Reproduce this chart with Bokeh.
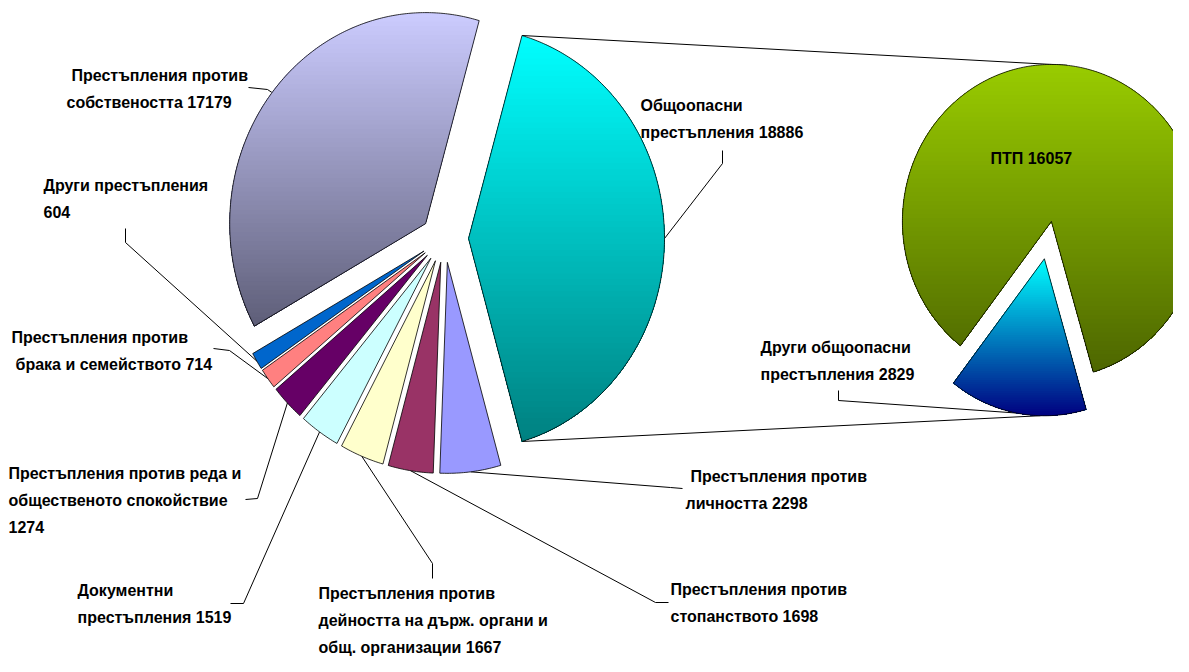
import numpy as np
from bokeh.plotting import figure
from bokeh.models import Range1d
from bokeh.core.properties import value
from bokeh.embed import file_html
from bokeh.resources import INLINE

# ---------------- data ----------------
# main pie, clockwise, starting with the slice that is split into the second pie
main_categories = [
    "Общоопасни престъпления",
    "Престъпления против личността",
    "Престъпления против стопанството",
    "Престъпления против дейността на държ. органи и общ. организации",
    "Документни престъпления",
    "Престъпления против реда и общественото спокойствие",
    "Престъпления против брака и семейството",
    "Други престъпления",
    "Престъпления против собствеността",
]
main_values = [18886, 2298, 1698, 1667, 1519, 1274, 714, 604, 17179]
main_label_lines = [
    ["Общоопасни", "престъпления {v}"],
    ["Престъпления против", "личността {v}"],
    ["Престъпления против", "стопанството {v}"],
    ["Престъпления против", "дейността на държ. органи и", "общ. организации {v}"],
    ["Документни", "престъпления {v}"],
    ["Престъпления против реда и", "общественото спокойствие", "{v}"],
    ["Престъпления против", "брака и семейството {v}"],
    ["Други престъпления", "{v}"],
    ["Престъпления против", "собствеността {v}"],
]

# second pie (breakdown of "Общоопасни престъпления"), clockwise
sub_categories = ["Други общоопасни престъпления", "ПТП"]
sub_values = [2829, 16057]
sub_label_lines = [["Други общоопасни", "престъпления  {v}"], ["ПТП {v}"]]

# ---------------- style / layout ----------------
main_fill_top = ["#00FFFF", "#9999FF", "#993366", "#FFFFCC", "#CCFFFF",
                 "#660066", "#FF8080", "#0066CC", "#CCCCFF"]
main_fill_bottom = ["#008080", "#9999FF", "#993366", "#FFFFCC", "#CCFFFF",
                    "#660066", "#FF8080", "#0066CC", "#5E5E78"]
sub_fill_top = ["#00FFFF", "#99CC00"]
sub_fill_bottom = ["#000080", "#4D6600"]

C1, R1, EXPL1 = (444.0, 238.0), (196.0, 211.0), 24.0
C2, R2, EXPL2 = (1047.4, 239.6), (149.0, 157.0), 19.0
SUB_START = 163.7          # clockwise from 12 o'clock
SUB_TOP_ANGLE, SUB_BOTTOM_ANGLE = 6.0, 181.5

LINE_STEP = 26.8
main_label_pos = [(640, 105), (690, 476), (670, 589), (318, 593), (77, 590),
                  (8, 473), (11, 337), (43, 185), (71, 75)]
main_label_dx = [[0, 0], [0, -5], [0, 0], [0, 0, 0], [0, 0],
                 [0, 0, 0], [0, 4], [0, 0], [0, -5]]
main_leader_elbows = [[(722, 150), (722, 163)], [(682, 488), (670, 487)],
                      [(668, 602), (655, 602)], [(432, 578), (432, 563)],
                      [(230, 603), (243, 603)], [(245, 499), (257, 498)],
                      [(213, 348), (229, 350)], [(125, 228), (125, 242)],
                      [(248, 87), (267, 89)]]
sub_label_pos = [(760, 347), (990, 158)]
sub_label_dx = [[0, 0], [0]]
sub_leader_elbows = [[(838, 390), (838, 400)], None]

FONT = value("Liberation Sans")


def hex2rgb(h):
    h = h.lstrip("#")
    return tuple(int(h[i:i + 2], 16) for i in (0, 2, 4))


def mix(a, b, t):
    ra, rb = hex2rgb(a), hex2rgb(b)
    return "#%02x%02x%02x" % tuple(int(round(ra[i] + (rb[i] - ra[i]) * t)) for i in range(3))


def slices(values, start):
    tot = float(sum(values))
    out, a = [], start
    for v in values:
        span = 360.0 * v / tot
        out.append((a, a + span))
        a += span
    return out


def apex(c, expl, a0, a1):
    m = np.radians((a0 + a1) / 2)
    return c[0] + expl * np.sin(m), c[1] - expl * np.cos(m)


def arc_point(ap, r, ang):
    t = np.radians(ang)
    return ap[0] + r[0] * np.sin(t), ap[1] - r[1] * np.cos(t)


def slice_poly(ap, r, a0, a1):
    n = max(8, int(abs(a1 - a0) * 1.5))
    t = np.radians(np.linspace(a0, a1, n))
    xs = [ap[0]] + list(ap[0] + r[0] * np.sin(t))
    ys = [ap[1]] + list(ap[1] - r[1] * np.cos(t))
    return xs, ys


def clip_below(xs, ys, t):
    ox, oy = [], []
    n = len(xs)
    for i in range(n):
        x1, y1 = xs[i - 1], ys[i - 1]
        x2, y2 = xs[i], ys[i]
        in1, in2 = y1 >= t, y2 >= t
        if in2:
            if not in1:
                f = (t - y1) / (y2 - y1)
                ox.append(x1 + f * (x2 - x1)); oy.append(t)
            ox.append(x2); oy.append(y2)
        elif in1:
            f = (t - y1) / (y2 - y1)
            ox.append(x1 + f * (x2 - x1)); oy.append(t)
    return ox, oy


p = figure(width=1173, height=656, x_range=Range1d(0, 1173), y_range=Range1d(656, 0),
           output_backend="svg", toolbar_location=None, min_border=0)
p.xaxis.visible = False
p.yaxis.visible = False
p.grid.visible = False
p.outline_line_color = None
p.background_fill_color = "white"
p.border_fill_color = "white"

fill_xs, fill_ys, fill_cols = [], [], []
out_xs, out_ys = [], []
text_x, text_y, text_s = [], [], []
lead_xs, lead_ys = [], []


def add_pie(values, start, c, r, expl, tops, bottoms, label_lines, label_pos, label_dx, elbows):
    geo = []
    for i, (a0, a1) in enumerate(slices(values, start)):
        ap = apex(c, expl, a0, a1)
        xs, ys = slice_poly(ap, r, a0, a1)
        geo.append((ap, a0, a1))
        if tops[i] == bottoms[i]:
            fill_xs.append(xs); fill_ys.append(ys); fill_cols.append(tops[i])
        else:
            y0, y1 = min(ys), max(ys)
            nb = 70
            for k in range(nb):
                t = y0 + (y1 - y0) * k / nb
                bx, by = clip_below(xs, ys, t)
                if len(bx) >= 3:
                    fill_xs.append(bx); fill_ys.append(by)
                    fill_cols.append(mix(tops[i], bottoms[i], (k + 0.5) / nb))
        out_xs.append(xs); out_ys.append(ys)
        # labels
        lx, ly = label_pos[i]
        for j, line in enumerate(label_lines[i]):
            text_x.append(lx + label_dx[i][j]); text_y.append(ly + j * LINE_STEP)
            text_s.append(line.format(v=values[i]))
        if elbows[i] is not None:
            mid = arc_point(ap, r, (a0 + a1) / 2)
            lead_xs.append([elbows[i][0][0], elbows[i][1][0], mid[0]])
            lead_ys.append([elbows[i][0][1], elbows[i][1][1], mid[1]])
    return geo


main_spans = slices(main_values, 0)
start1 = 90 - (main_spans[0][1] - main_spans[0][0]) / 2
g1 = add_pie(main_values, start1, C1, R1, EXPL1, main_fill_top, main_fill_bottom,
             main_label_lines, main_label_pos, main_label_dx, main_leader_elbows)
g2 = add_pie(sub_values, SUB_START, C2, R2, EXPL2, sub_fill_top, sub_fill_bottom,
             sub_label_lines, sub_label_pos, sub_label_dx, sub_leader_elbows)

# connector lines between the split slice and the second pie
ap0, a0, a1 = g1[0]
top1 = arc_point(ap0, R1, a0)
bot1 = arc_point(ap0, R1, a1)
top2 = arc_point(g2[1][0], R2, SUB_TOP_ANGLE)
bot2 = arc_point(g2[0][0], R2, SUB_BOTTOM_ANGLE)
lead_xs += [[top1[0], top2[0]], [bot1[0], bot2[0]]]
lead_ys += [[top1[1], top2[1]], [bot1[1], bot2[1]]]

p.multi_line(xs=lead_xs, ys=lead_ys, line_color="black", line_width=1)
p.patches(xs=fill_xs, ys=fill_ys, fill_color=fill_cols, line_color=None)
p.patches(xs=out_xs, ys=out_ys, fill_color=None, line_color="black", line_width=0.8)
p.text(x=text_x, y=text_y, text=text_s, text_font=FONT, text_font_style="bold",
       text_font_size="16px", text_baseline="middle", text_align="left", text_color="black")

open("out.html", "w").write(file_html(p, INLINE))
